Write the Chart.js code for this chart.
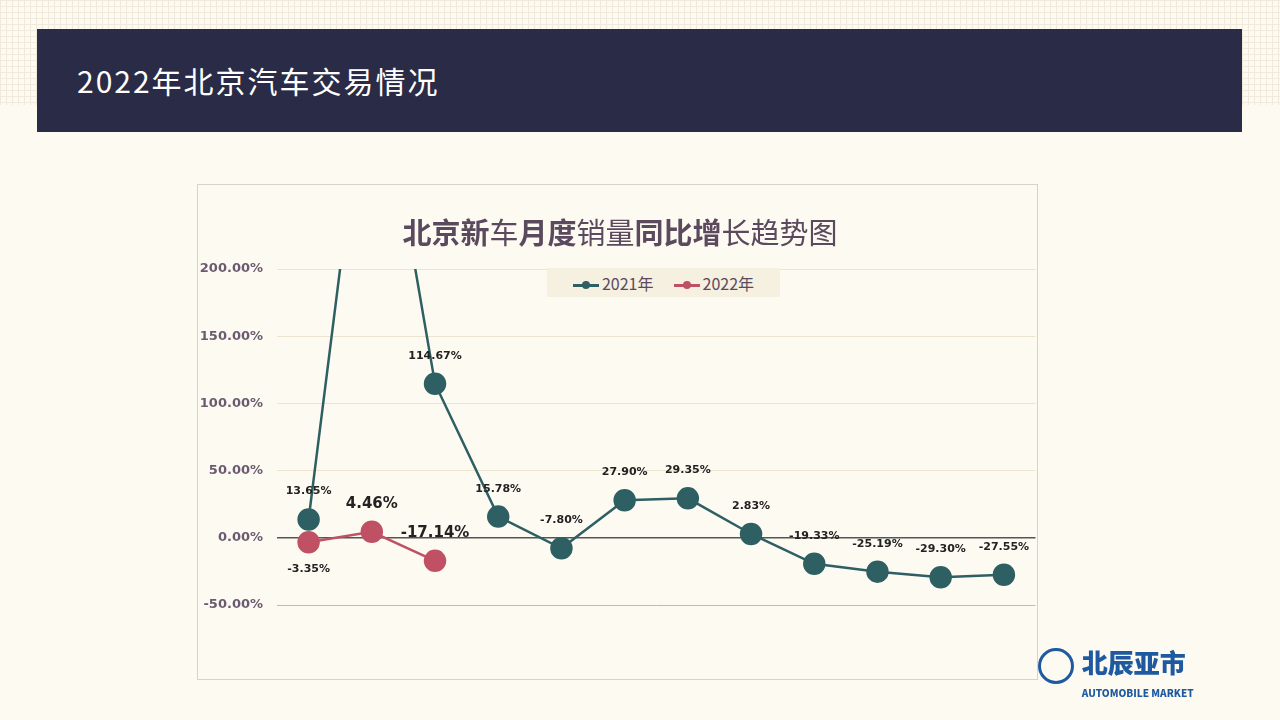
<!DOCTYPE html>
<html><head><meta charset="utf-8">
<script src="https://cdn.jsdelivr.net/npm/chart.js@4/dist/chart.umd.min.js"></script>
<style>
body{margin:0;width:1280px;height:720px;overflow:hidden;font-family:"Noto Sans CJK SC",sans-serif;
 background:#fdfaf2;position:relative}
.grid{position:absolute;left:0;top:0;width:1280px;height:105px;
 background-image:linear-gradient(#f1e9dc 1px,transparent 1px),linear-gradient(90deg,#f1e9dc 1px,transparent 1px);background-size:6px 6px}
.bar{position:absolute;left:37px;top:29px;width:1205px;height:103px;background:#2a2c47;color:#fff;
 font-size:30px;line-height:103px;padding-left:40px;box-sizing:border-box;letter-spacing:2px;font-family:"Noto Sans CJK SC"}
.box{position:absolute;left:197px;top:184px;width:841px;height:496px;border:1px solid #d6d2cc;box-sizing:border-box}
#c{position:absolute;left:198px;top:185px}
.title{position:absolute;left:-20px;width:1280px;top:210px;text-align:center;font-size:29px;color:#5b4a5e}
.title b{font-weight:700}.title span{font-weight:400}
.legend{position:absolute;left:547px;top:268px;width:233px;height:29px;background:#f6f0e0;font-size:16px;color:#5b4a5e;
 display:flex;align-items:center;justify-content:center;gap:20px}
.legend i{display:inline-block;width:26px;height:3px;position:relative;vertical-align:middle;margin-right:3px}
.legend i:after{content:"";position:absolute;left:9px;top:-3px;width:8px;height:8px;border-radius:50%;background:inherit}
.logo{position:absolute;left:1038px;top:648px;color:#1f5aa0;font-weight:900}
</style></head><body>
<div class="grid"></div>
<div class="bar">2022年北京汽车交易情况</div>
<div class="box"></div>
<canvas id="c" width="850" height="509"></canvas>
<div class="title"><b>北京新</b><span>车</span><b>月度</b><span>销量</span><b>同比增</b><span>长趋势图</span></div>
<div class="legend"><span><i style="background:#2e5f63"></i>2021年</span><span><i style="background:#c05064"></i>2022年</span></div>
<div class="logo"><span style="display:inline-block;width:36px;height:36px;border-radius:50%;border:3px solid #1f5aa0;box-sizing:border-box;vertical-align:top"></span>
<span style="display:inline-block;vertical-align:top;margin-left:4px"><span style="font-size:26px;line-height:28px">北辰亚市</span><br><span style="font-size:10px;line-height:10px">AUTOMOBILE MARKET</span></span></div>
<script>
const months = ['1月','2月','3月','4月','5月','6月','7月','8月','9月','10月','11月','12月'];
const sales2021 = [13.65, 388, 114.67, 15.78, -7.80, 27.90, 29.35, 2.83, -19.33, -25.19, -29.30, -27.55];
const sales2022 = [-3.35, 4.46, -17.14];
const yTicks = [-100, -50, 0, 50, 100, 150, 200];

const labelPlugin = {
  id: 'labels',
  afterDatasetsDraw(chart) {
    const ctx = chart.ctx;
    ctx.save();
    ctx.textAlign = 'center';
    chart.data.datasets.forEach((ds, di) => {
      chart.getDatasetMeta(di).data.forEach((pt, i) => {
        const v = ds.data[i];
        if (v > 200) return;
        let dy = -25, font = 'bold 11px "DejaVu Sans"';
        if (di === 1) {
          if (i === 0) dy = 30; else { dy = -24; font = 'bold 15px "DejaVu Sans"'; }
        }
        ctx.font = font;
        ctx.fillStyle = '#222';
        ctx.fillText(v.toFixed(2) + '%', pt.x, pt.y + dy);
      });
    });
    ctx.restore();
  }
};

new Chart(document.getElementById('c'), {
  type: 'line',
  data: {
    labels: months,
    datasets: [
      {label: '2021年', data: sales2021, borderColor: '#2e5f63', backgroundColor: '#2e5f63',
       borderWidth: 2.5, pointRadius: 10, pointHoverRadius: 10, tension: 0},
      {label: '2022年', data: sales2022, borderColor: '#c05064', backgroundColor: '#c05064',
       borderWidth: 2.5, pointRadius: 10, pointHoverRadius: 10, tension: 0}
    ]
  },
  options: {
    responsive: false,
    animation: false,
    layout: {padding: {top: 84, bottom: 0, right: 11}},
    plugins: {legend: {display: false}, tooltip: {enabled: false}},
    scales: {
      x: {offset: true, display: false},
      y: {
        min: -100, max: 200, afterBuildTicks: ax => { ax.ticks = yTicks.map(v => ({value: v})); },
        afterFit: ax => { ax.width = 79; },
        border: {display: false},
        grid: {color: c => c.tick.value === 0 ? '#555' : (c.tick.value === -50 ? '#bbb' : (c.tick.value === -100 ? 'rgba(0,0,0,0)' : '#ece4cf')), drawTicks: false,
               lineWidth: c => c.tick.value === 0 ? 1.5 : 1},
        ticks: {padding: 14, color: '#6b5a70', font: {family: 'DejaVu Sans', size: 13, weight: 'bold'},
                callback: v => v === -100 ? '' : v.toFixed(2) + '%'}
      }
    }
  },
  plugins: [labelPlugin]
});
</script>
</body></html>
